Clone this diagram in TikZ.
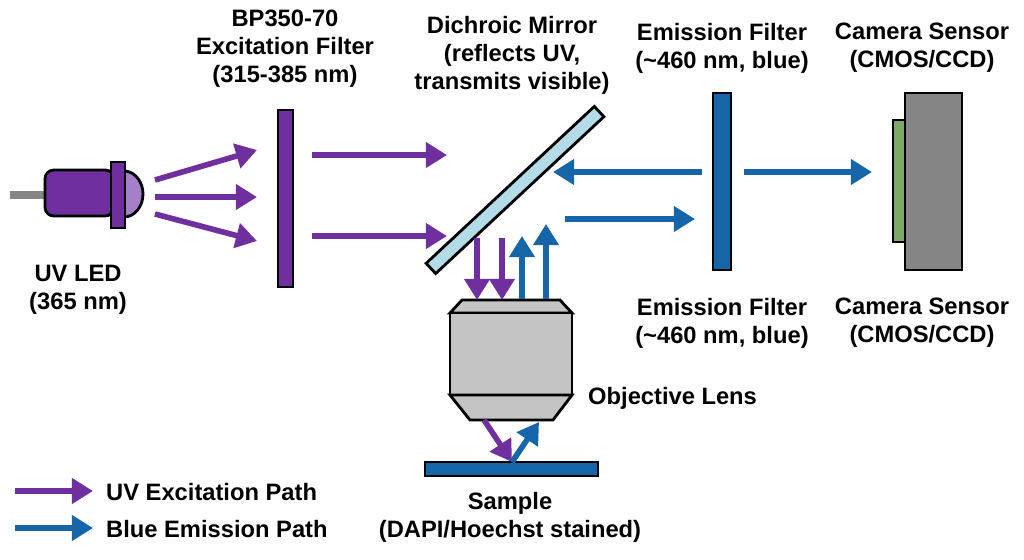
\documentclass[tikz,border=0pt]{standalone}
\usepackage{fontspec}
\setmainfont{Liberation Sans}
\usetikzlibrary{arrows.meta}

\definecolor{uvpurple}{HTML}{6F2F9F}
\definecolor{emblue}{HTML}{1565A8}
\definecolor{domepurple}{HTML}{A57FC8}
\definecolor{mirrorblue}{HTML}{B4DCE8}
\definecolor{lensgray}{HTML}{C4C4C4}
\definecolor{camgray}{HTML}{858585}
\definecolor{chipgreen}{HTML}{7DAA62}

\tikzset{
  lbl/.style={font=\fontsize{13.5}{16}\selectfont\bfseries, align=center},
  uvray/.style={draw=uvpurple, line width=3.2pt, -{Triangle[length=12pt,width=14pt]}},
  emray/.style={draw=emblue, line width=3.2pt, -{Triangle[length=12pt,width=14pt]}},
  part/.style={draw=black, line width=1.6pt}
}

\begin{document}
\begin{tikzpicture}[x=0.02cm, y=-0.02cm]
  \useasboundingbox (0,0) rectangle (1024,559);

  % LED
  \draw [camgray, line width=4.5pt] (10,195) -- (47,195);
  \draw [part, fill=uvpurple, rounded corners=5pt] (45,170) rectangle (114,216);
  \draw [part, fill=domepurple] (124,171) arc (-90:90:19 and 23) -- cycle;
  \draw [part, fill=uvpurple] (111,162) rectangle (125,228);
  \node (led) at (80,193) {};

  % excitation filter
  \draw [part, fill=uvpurple] (278,110) rectangle (293,287);
  \node (exf) at (285,198) {};

  % dichroic mirror
  \draw [part, fill=mirrorblue, rotate around={43:(515,190)}] (400,183) rectangle (630,197);

  % emission filter and camera
  \draw [part, fill=emblue] (713,93) rectangle (731,270);
  \draw [part, fill=chipgreen] (893,120) rectangle (906,242);
  \draw [part, fill=camgray] (905,93) rectangle (962,270);

  % objective
  \draw [part, fill=lensgray] (450,313) -- (462,300) -- (560,300) -- (572,313) -- cycle;
  \draw [part, fill=lensgray] (450,313) rectangle (572,395);
  \draw [part, fill=lensgray] (450,395) -- (572,395) -- (553,420) -- (470,420) -- cycle;

  % sample
  \draw [part, fill=emblue] (425,462) rectangle (598,476);

  % rays
  \coordinate (l1) at (155,180); \coordinate (f1) at (257,150);
  \coordinate (l2) at (155,197); \coordinate (f2) at (257,197);
  \coordinate (l3) at (155,214); \coordinate (f3) at (257,241);
  \draw [uvray] (l1) -- (f1);
  \draw [uvray] (l2) -- (f2);
  \draw [uvray] (l3) -- (f3);
  \coordinate (x1) at (312,155); \coordinate (m1) at (447,155);
  \coordinate (x2) at (312,236); \coordinate (m2) at (447,236);
  \draw [uvray] (x1) -- (m1);
  \draw [uvray] (x2) -- (m2);

  \coordinate (d1) at (477,238); \coordinate (o1) at (477,300);
  \coordinate (d2) at (502,238); \coordinate (o2) at (502,300);
  \draw [uvray] (d1) -- (o1);
  \draw [uvray] (d2) -- (o2);
  \coordinate (u1) at (522,299); \coordinate (t1) at (522,236);
  \coordinate (u2) at (546,299); \coordinate (t2) at (546,224);
  \draw [emray] (u1) -- (t1);
  \draw [emray] (u2) -- (t2);

  \coordinate (sp) at (512,462);
  \coordinate (ob) at (484,420);
  \coordinate (oe) at (539,422);
  \draw [uvray] (ob) -- (sp);
  \draw [emray] (sp) -- (oe);

  \coordinate (r1) at (702,172); \coordinate (r0) at (553,172);
  \draw [emray] (r1) -- (r0);
  \coordinate (q1) at (565,219); \coordinate (q0) at (695,219);
  \draw [emray] (q1) -- (q0);
  \coordinate (c1) at (744,172); \coordinate (c0) at (872,172);
  \draw [emray] (c1) -- (c0);

  % labels
  \node [lbl] (ledlbl) at (78,290) {UV LED\\(365 nm)};
  \node [lbl] (exflbl) at (285,49) {BP350-70\\Excitation Filter\\(315-385 nm)};
  \node [lbl] (dmlbl) at (512,55) {Dichroic Mirror\\(reflects UV,\\transmits visible)};
  \node [lbl] (emlbl) at (722,48) {Emission Filter\\(\textasciitilde460 nm, blue)};
  \node [lbl] (camlbl) at (922,48) {Camera Sensor\\(CMOS/CCD)};
  \node [lbl] (emlbl2) at (722,323) {Emission Filter\\(\textasciitilde460 nm, blue)};
  \node [lbl] (camlbl2) at (922,323) {Camera Sensor\\(CMOS/CCD)};
  \node [lbl, anchor=west] (objlbl) at (582,398) {Objective Lens};
  \node [lbl] (smplbl) at (510,517) {Sample\\(DAPI/Hoechst stained)};

  % legend
  \coordinate (k1) at (15,491); \coordinate (k2) at (93,491);
  \coordinate (k3) at (15,528); \coordinate (k4) at (93,528);
  \draw [uvray] (k1) -- (k2);
  \draw [emray] (k3) -- (k4);
  \node [lbl, anchor=west] (uvkey) at (100,492) {UV Excitation Path};
  \node [lbl, anchor=west] (emkey) at (100,529) {Blue Emission Path};
\end{tikzpicture}
\end{document}
